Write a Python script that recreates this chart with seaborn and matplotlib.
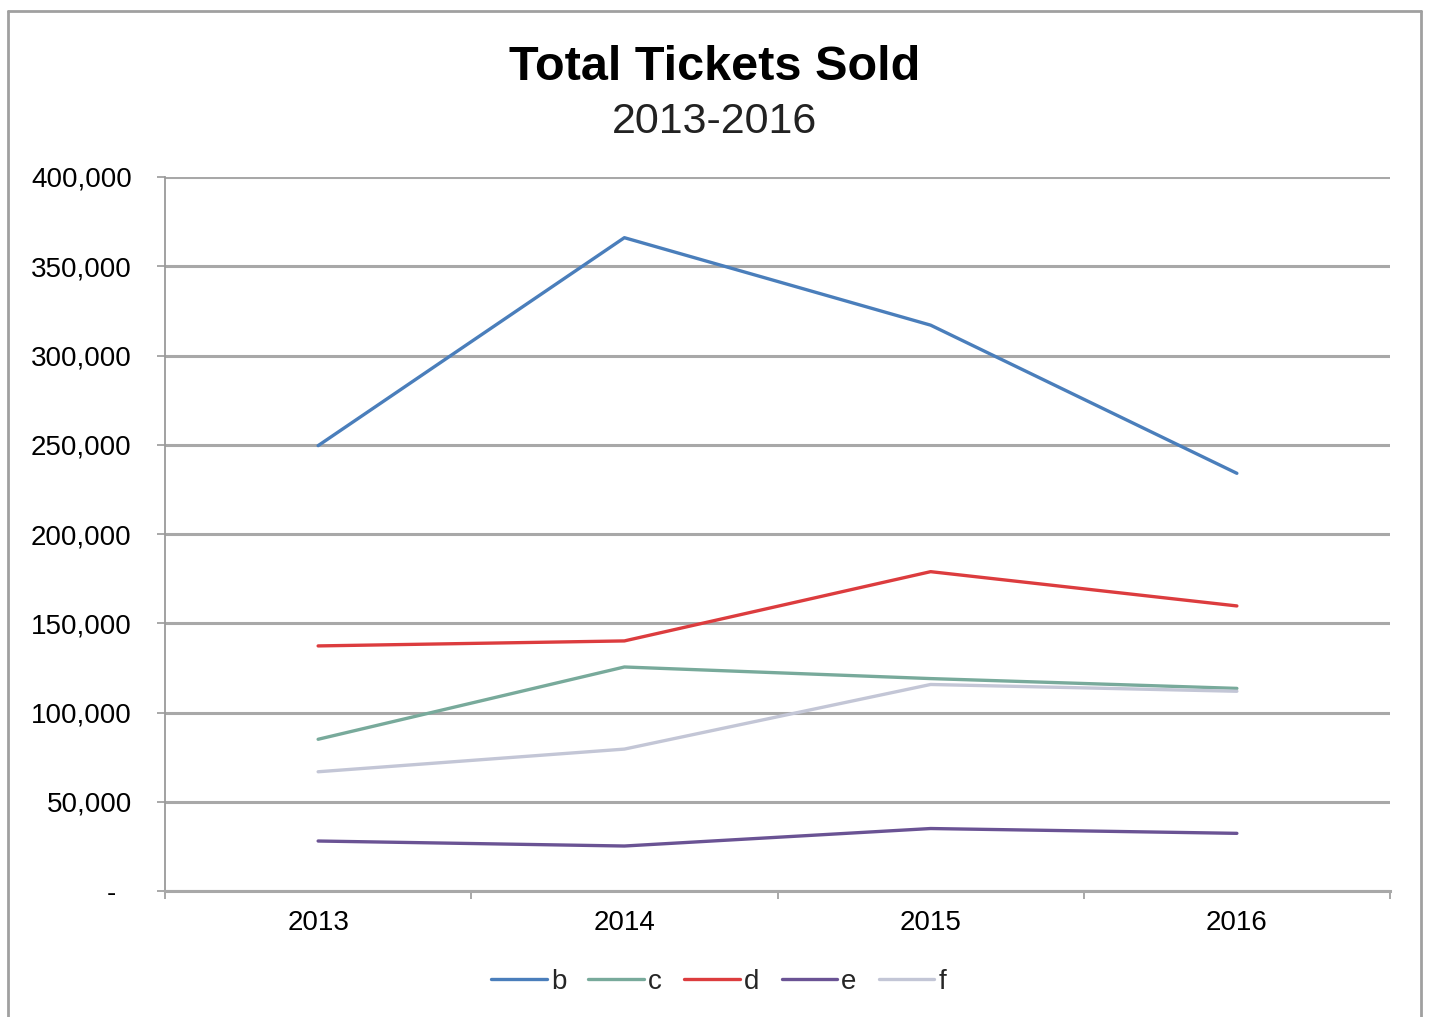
import matplotlib
matplotlib.use("Agg")
import matplotlib.pyplot as plt
from matplotlib.lines import Line2D
from matplotlib.ticker import FixedLocator, FuncFormatter
import seaborn as sns
import pandas as pd

# Ticket totals per series, 2013-2016
years = ["2013", "2014", "2015", "2016"]
series_names = ["b", "c", "d", "e", "f"]
b_vals = [249500, 366000, 317000, 234000]
c_vals = [85000, 125500, 119000, 113500]
d_vals = [137300, 140100, 178900, 159700]
e_vals = [28000, 25200, 35000, 32300]
f_vals = [66800, 79500, 115700, 111900]
colors = ["#4a7ebb", "#78aa9b", "#dc3c3e", "#6a5394", "#c3c6d6"]

values = [b_vals, c_vals, d_vals, e_vals, f_vals]
rows = []
for name, vals in zip(series_names, values):
    for i, v in enumerate(vals):
        rows.append({"pos": i, "year": years[i], "series": name, "tickets": v})
df = pd.DataFrame(rows)

sns.set_theme(style="white")
plt.rcParams["font.family"] = ["Liberation Sans", "DejaVu Sans"]

fig = plt.figure(figsize=(14.29, 10.17), dpi=100)
ax = fig.add_axes([165 / 1429, 1 - 891 / 1017, (1390 - 165) / 1429, (891 - 177) / 1017])

palette = dict(zip(series_names, colors))
sns.lineplot(data=df, x="pos", y="tickets", hue="series", palette=palette,
             hue_order=series_names, sort=False, linewidth=2.4, ax=ax, legend=False)

grid_color = "#a8a8a8"
ax.set_xlim(-0.5, 3.5)
ax.set_ylim(0, 400000)
ax.set_yticks(range(0, 400001, 50000))
ax.yaxis.set_major_formatter(FuncFormatter(lambda v, p: "-  " if v == 0 else f"{int(v):,}"))
ax.grid(axis="y", color=grid_color, linewidth=2.2)
ax.set_axisbelow(True)

# category labels centred, tick marks at category boundaries
ax.set_xticks(range(len(years)))
ax.set_xticklabels(years)
ax.xaxis.set_minor_locator(FixedLocator([-0.5, 0.5, 1.5, 2.5, 3.5]))
ax.tick_params(axis="x", which="major", length=0, pad=14, labelsize=20, colors="black")
ax.tick_params(axis="x", which="minor", length=6, width=1.2, color="#999999", direction="out", bottom=True)
ax.tick_params(axis="y", which="major", length=6, width=1.2, color="#999999", direction="out",
               left=True, pad=18, labelsize=20, labelcolor="black")

for side in ["top", "right"]:
    ax.spines[side].set_visible(False)
ax.spines["left"].set_color("#9a9a9a")
ax.spines["left"].set_linewidth(1.3)
ax.spines["bottom"].set_color(grid_color)
ax.spines["bottom"].set_linewidth(2.2)
ax.set_xlabel("")
ax.set_ylabel("")

fig.text(0.5, 1 - 80 / 1017, "Total Tickets Sold", ha="center", va="baseline",
         fontsize=35, fontweight="bold", color="black")
fig.text(0.5, 1 - 133 / 1017, "2013-2016", ha="center", va="baseline",
         fontsize=31, color="#222222")

handles = [Line2D([0], [0], color=c, linewidth=2.4) for c in colors]
fig.legend(handles, series_names, loc="center", bbox_to_anchor=(0.503, 1 - 982 / 1017),
           ncol=5, frameon=False, fontsize=20, handlelength=2.0, handletextpad=0.15,
           columnspacing=0.8)

# outer chart frame
frame_kw = dict(color="#a0a0a0", linewidth=2.0, transform=fig.transFigure)
fig.add_artist(Line2D([8 / 1429, 1421 / 1429], [1 - 11 / 1017, 1 - 11 / 1017], **frame_kw))
fig.add_artist(Line2D([8 / 1429, 8 / 1429], [0, 1 - 11 / 1017], **frame_kw))
fig.add_artist(Line2D([1421 / 1429, 1421 / 1429], [0, 1 - 11 / 1017], **frame_kw))

fig.savefig("out.png", dpi=100, facecolor="white")
